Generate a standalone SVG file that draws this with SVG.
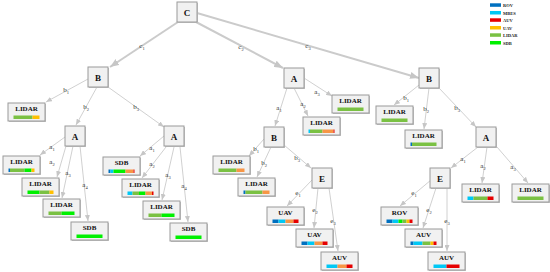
<svg xmlns="http://www.w3.org/2000/svg" width="550" height="272" viewBox="0 0 550 272">
<style>
.bg{fill:#ffffff}
.n rect.b{fill:#f1f1f1;stroke:#9a9a9a;stroke-width:1}
.n rect.s{fill:#c4c4c4}
.n text{font-family:"Liberation Serif",serif;font-weight:bold;fill:#111;text-anchor:middle}
.in text{font-size:9px}
.lf text{font-size:7px}
.e line{stroke:#cbcbcb;stroke-width:0.9;fill:none;marker-end:url(#ah)}
.e line.t{stroke-width:2;marker-end:url(#ahb)}
.lb{opacity:0.99}
.lb text{font-family:"Liberation Serif",serif;font-size:7px;fill:#333333;text-anchor:middle}
.lb tspan{font-size:4.5px}
.rov{fill:#0070c0}.mbes{fill:#00c8f5}.auv{fill:#e60000}.uav{fill:#ffc000}.lid{fill:#7ac143}.sdb{fill:#00f000}.org{fill:#f79646}
.lg text{font-family:"Liberation Serif",serif;font-weight:bold;font-size:4.5px;fill:#222}
</style>
<defs>
<marker id="ah" markerUnits="userSpaceOnUse" markerWidth="6" markerHeight="5" refX="6" refY="2.5" orient="auto"><path d="M0,0 L6,2.5 L0,5 z" fill="#c6c6c6"/></marker>
<marker id="ahb" markerUnits="userSpaceOnUse" markerWidth="9" markerHeight="7" refX="9" refY="3.5" orient="auto"><path d="M0,0 L9,3.5 L0,7 z" fill="#c6c6c6"/></marker>
</defs>
<rect class="bg" x="0" y="0" width="550" height="272"/>

<g id="connectors" class="e">
<line class="t" x1="178" y1="22" x2="110" y2="67"/>
<line class="t" x1="196" y1="22" x2="283" y2="68"/>
<line class="t" x1="197" y1="13" x2="419" y2="78"/>
<line x1="88" y1="79" x2="46" y2="102"/>
<line x1="97" y1="87" x2="76" y2="125"/>
<line x1="108" y1="87" x2="164" y2="127"/>
<line x1="65" y1="137" x2="40" y2="155"/>
<line x1="66" y1="146" x2="57" y2="177"/>
<line x1="73" y1="146" x2="62" y2="198"/>
<line x1="80" y1="146" x2="88" y2="221"/>
<line x1="164" y1="136" x2="140" y2="156"/>
<line x1="166" y1="147" x2="142" y2="178"/>
<line x1="174" y1="147" x2="162" y2="200"/>
<line x1="180" y1="147" x2="188" y2="222"/>
<line x1="287" y1="88" x2="275" y2="126"/>
<line x1="294" y1="88" x2="308" y2="116"/>
<line x1="304" y1="78" x2="332" y2="96"/>
<line x1="264" y1="139" x2="249" y2="156"/>
<line x1="271" y1="147" x2="257" y2="177"/>
<line x1="284" y1="145" x2="311" y2="168"/>
<line x1="312" y1="180" x2="287" y2="206"/>
<line x1="318" y1="188" x2="314" y2="228"/>
<line x1="329" y1="188" x2="338" y2="251"/>
<line x1="419" y1="85" x2="394" y2="105"/>
<line x1="429" y1="88" x2="424" y2="129"/>
<line x1="439" y1="88" x2="476" y2="127"/>
<line x1="478" y1="147" x2="451" y2="168"/>
<line x1="487" y1="147" x2="482" y2="183"/>
<line x1="497" y1="147" x2="528" y2="183"/>
<line x1="431" y1="180" x2="400" y2="206"/>
<line x1="436" y1="188" x2="423" y2="228"/>
<line x1="447" y1="188" x2="447" y2="251"/>
</g>

<g id="edge-labels" class="lb">
<text x="142" y="48">c<tspan dy="1.5">1</tspan></text>
<text x="241" y="49">c<tspan dy="1.5">2</tspan></text>
<text x="308" y="48">c<tspan dy="1.5">3</tspan></text>
<text x="66" y="92">b<tspan dy="1.5">1</tspan></text>
<text x="86" y="109">b<tspan dy="1.5">2</tspan></text>
<text x="136" y="109">b<tspan dy="1.5">3</tspan></text>
<text x="52" y="149">a<tspan dy="1.5">1</tspan></text>
<text x="52" y="164">a<tspan dy="1.5">2</tspan></text>
<text x="68" y="175">a<tspan dy="1.5">3</tspan></text>
<text x="85" y="187">a<tspan dy="1.5">4</tspan></text>
<text x="152" y="150">a<tspan dy="1.5">1</tspan></text>
<text x="152" y="166">a<tspan dy="1.5">2</tspan></text>
<text x="168" y="177">a<tspan dy="1.5">3</tspan></text>
<text x="184" y="188">a<tspan dy="1.5">4</tspan></text>
<text x="279" y="110">a<tspan dy="1.5">1</tspan></text>
<text x="303" y="106">a<tspan dy="1.5">2</tspan></text>
<text x="317" y="94">a<tspan dy="1.5">3</tspan></text>
<text x="256" y="151">b<tspan dy="1.5">1</tspan></text>
<text x="264" y="165">b<tspan dy="1.5">2</tspan></text>
<text x="297" y="160">b<tspan dy="1.5">3</tspan></text>
<text x="298" y="195">e<tspan dy="1.5">1</tspan></text>
<text x="315" y="212">e<tspan dy="1.5">2</tspan></text>
<text x="333" y="223">e<tspan dy="1.5">3</tspan></text>
<text x="406" y="100">b<tspan dy="1.5">1</tspan></text>
<text x="426" y="111">b<tspan dy="1.5">2</tspan></text>
<text x="457" y="110">b<tspan dy="1.5">3</tspan></text>
<text x="463" y="161">a<tspan dy="1.5">1</tspan></text>
<text x="483" y="168">a<tspan dy="1.5">2</tspan></text>
<text x="513" y="169">a<tspan dy="1.5">3</tspan></text>
<text x="414" y="195">e<tspan dy="1.5">1</tspan></text>
<text x="429" y="212">e<tspan dy="1.5">2</tspan></text>
<text x="447" y="223">e<tspan dy="1.5">3</tspan></text>
</g>

<g id="n-C" class="n in"><rect class="s" x="178" y="3" width="20" height="20"/><rect class="b" x="177" y="2" width="20" height="20"/><text x="187" y="15.5">C</text></g>
<g id="n-B1" class="n in"><rect class="s" x="89" y="68" width="20" height="20"/><rect class="b" x="88" y="67" width="20" height="20"/><text x="98" y="80.5">B</text></g>
<g id="n-A1" class="n in"><rect class="s" x="66" y="127" width="20" height="20"/><rect class="b" x="65" y="126" width="20" height="20"/><text x="75" y="139.5">A</text></g>
<g id="n-A2" class="n in"><rect class="s" x="165" y="127" width="20" height="20"/><rect class="b" x="164" y="126" width="20" height="20"/><text x="174" y="139.5">A</text></g>
<g id="n-A3" class="n in"><rect class="s" x="285" y="69" width="20" height="20"/><rect class="b" x="284" y="68" width="20" height="20"/><text x="294" y="81.5">A</text></g>
<g id="n-B2" class="n in"><rect class="s" x="265" y="128" width="20" height="20"/><rect class="b" x="264" y="127" width="20" height="20"/><text x="274" y="140.5">B</text></g>
<g id="n-E1" class="n in"><rect class="s" x="313" y="169" width="20" height="20"/><rect class="b" x="312" y="168" width="20" height="20"/><text x="322" y="181.5">E</text></g>
<g id="n-B3" class="n in"><rect class="s" x="420" y="69" width="20" height="20"/><rect class="b" x="419" y="68" width="20" height="20"/><text x="429" y="81.5">B</text></g>
<g id="n-A4" class="n in"><rect class="s" x="477" y="128" width="20" height="20"/><rect class="b" x="476" y="127" width="20" height="20"/><text x="486" y="140.5">A</text></g>
<g id="n-E2" class="n in"><rect class="s" x="431" y="169" width="20" height="20"/><rect class="b" x="430" y="168" width="20" height="20"/><text x="440" y="181.5">E</text></g>

<g id="leaf1" class="n lf"><rect class="s" x="9" y="104" width="37" height="18"/><rect class="b" x="8" y="103" width="37" height="18"/><text x="26.5" y="111">LIDAR</text>
<rect class="lid" x="13.5" y="115.5" width="19" height="3.5"/><rect class="uav" x="32.5" y="115.5" width="7" height="3.5"/></g>
<g id="leaf2" class="n lf"><rect class="s" x="4" y="157" width="37" height="18"/><rect class="b" x="3" y="156" width="37" height="18"/><text x="21.5" y="164">LIDAR</text>
<rect class="rov" x="8.5" y="168.5" width="1.5" height="3.5"/><rect class="lid" x="10" y="168.5" width="14.5" height="3.5"/><rect class="sdb" x="24.5" y="168.5" width="7" height="3.5"/><rect class="uav" x="31.5" y="168.5" width="3" height="3.5"/></g>
<g id="leaf3" class="n lf"><rect class="s" x="23" y="179" width="37" height="18"/><rect class="b" x="22" y="178" width="37" height="18"/><text x="40.5" y="186">LIDAR</text>
<rect class="sdb" x="27.5" y="190.5" width="12" height="3.5"/><rect class="lid" x="39.5" y="190.5" width="10" height="3.5"/><rect class="uav" x="49.5" y="190.5" width="4" height="3.5"/></g>
<g id="leaf4" class="n lf"><rect class="s" x="44" y="200" width="37" height="18"/><rect class="b" x="43" y="199" width="37" height="18"/><text x="61.5" y="207">LIDAR</text>
<rect class="lid" x="48.5" y="211.5" width="13" height="3.5"/><rect class="sdb" x="61.5" y="211.5" width="13" height="3.5"/></g>
<g id="leaf5" class="n lf"><rect class="s" x="72" y="223" width="37" height="18"/><rect class="b" x="71" y="222" width="37" height="18"/><text x="89.5" y="230">SDB</text>
<rect class="sdb" x="76.5" y="234.5" width="26" height="3.5"/></g>
<g id="leaf6" class="n lf"><rect class="s" x="104" y="158" width="37" height="18"/><rect class="b" x="103" y="157" width="37" height="18"/><text x="121.5" y="165">SDB</text>
<rect class="rov" x="108.5" y="169.5" width="2" height="3.5"/><rect class="mbes" x="110.5" y="169.5" width="3" height="3.5"/><rect class="sdb" x="113.5" y="169.5" width="12" height="3.5"/><rect class="org" x="125.5" y="169.5" width="8" height="3.5"/><rect class="auv" x="133.5" y="169.5" width="1" height="3.5"/></g>
<g id="leaf7" class="n lf"><rect class="s" x="123" y="180" width="37" height="18"/><rect class="b" x="122" y="179" width="37" height="18"/><text x="140.5" y="187">LIDAR</text>
<rect class="mbes" x="127.5" y="191.5" width="5" height="3.5"/><rect class="lid" x="132.5" y="191.5" width="6.5" height="3.5"/><rect class="sdb" x="139" y="191.5" width="6.5" height="3.5"/><rect class="org" x="145.5" y="191.5" width="6.5" height="3.5"/><rect class="auv" x="152" y="191.5" width="1.5" height="3.5"/></g>
<g id="leaf8" class="n lf"><rect class="s" x="144" y="202" width="37" height="18"/><rect class="b" x="143" y="201" width="37" height="18"/><text x="161.5" y="209">LIDAR</text>
<rect class="lid" x="148.5" y="213.5" width="13" height="3.5"/><rect class="sdb" x="161.5" y="213.5" width="13" height="3.5"/></g>
<g id="leaf9" class="n lf"><rect class="s" x="171" y="224" width="37" height="18"/><rect class="b" x="170" y="223" width="37" height="18"/><text x="188.5" y="231">SDB</text>
<rect class="sdb" x="175.5" y="235.5" width="26" height="3.5"/></g>
<g id="leaf10" class="n lf"><rect class="s" x="333" y="96" width="37" height="18"/><rect class="b" x="332" y="95" width="37" height="18"/><text x="350.5" y="103">LIDAR</text>
<rect class="lid" x="337.5" y="107.5" width="26" height="3.5"/></g>
<g id="leaf11" class="n lf"><rect class="s" x="304" y="118" width="37" height="18"/><rect class="b" x="303" y="117" width="37" height="18"/><text x="321.5" y="125">LIDAR</text>
<rect class="mbes" x="308.5" y="129.5" width="1.5" height="3.5"/><rect class="lid" x="310" y="129.5" width="12.5" height="3.5"/><rect class="org" x="322.5" y="129.5" width="11" height="3.5"/><rect class="auv" x="333.5" y="129.5" width="1" height="3.5"/></g>
<g id="leaf12" class="n lf"><rect class="s" x="214" y="157" width="37" height="18"/><rect class="b" x="213" y="156" width="37" height="18"/><text x="231.5" y="164">LIDAR</text>
<rect class="lid" x="218.5" y="168.5" width="18" height="3.5"/><rect class="org" x="236.5" y="168.5" width="8" height="3.5"/></g>
<g id="leaf13" class="n lf"><rect class="s" x="239" y="179" width="37" height="18"/><rect class="b" x="238" y="178" width="37" height="18"/><text x="256.5" y="186">LIDAR</text>
<rect class="rov" x="243.5" y="190.5" width="2" height="3.5"/><rect class="lid" x="245.5" y="190.5" width="17" height="3.5"/><rect class="org" x="262.5" y="190.5" width="7" height="3.5"/></g>
<g id="leaf14" class="n lf"><rect class="s" x="268" y="208" width="37" height="18"/><rect class="b" x="267" y="207" width="37" height="18"/><text x="285.5" y="215">UAV</text>
<rect class="rov" x="272.5" y="219.5" width="6" height="3.5"/><rect class="mbes" x="278.5" y="219.5" width="7" height="3.5"/><rect class="org" x="285.5" y="219.5" width="8" height="3.5"/><rect class="auv" x="293.5" y="219.5" width="5" height="3.5"/></g>
<g id="leaf15" class="n lf"><rect class="s" x="297" y="230" width="37" height="18"/><rect class="b" x="296" y="229" width="37" height="18"/><text x="314.5" y="237">UAV</text>
<rect class="rov" x="301.5" y="241.5" width="6" height="3.5"/><rect class="mbes" x="307.5" y="241.5" width="7" height="3.5"/><rect class="org" x="314.5" y="241.5" width="8" height="3.5"/><rect class="auv" x="322.5" y="241.5" width="5" height="3.5"/></g>
<g id="leaf16" class="n lf"><rect class="s" x="322" y="253" width="37" height="18"/><rect class="b" x="321" y="252" width="37" height="18"/><text x="339.5" y="260">AUV</text>
<rect class="mbes" x="326.5" y="264.5" width="11" height="3.5"/><rect class="org" x="337.5" y="264.5" width="9" height="3.5"/><rect class="auv" x="346.5" y="264.5" width="6" height="3.5"/></g>
<g id="leaf17" class="n lf"><rect class="s" x="377" y="107" width="37" height="18"/><rect class="b" x="376" y="106" width="37" height="18"/><text x="394.5" y="114">LIDAR</text>
<rect class="lid" x="381.5" y="118.5" width="26" height="3.5"/></g>
<g id="leaf18" class="n lf"><rect class="s" x="406" y="131" width="37" height="18"/><rect class="b" x="405" y="130" width="37" height="18"/><text x="423.5" y="138">LIDAR</text>
<rect class="rov" x="410.5" y="142.5" width="1.5" height="3.5"/><rect class="lid" x="412" y="142.5" width="24.5" height="3.5"/></g>
<g id="leaf19" class="n lf"><rect class="s" x="463" y="185" width="37" height="18"/><rect class="b" x="462" y="184" width="37" height="18"/><text x="480.5" y="192">LIDAR</text>
<rect class="mbes" x="467.5" y="196.5" width="6" height="3.5"/><rect class="lid" x="473.5" y="196.5" width="14" height="3.5"/><rect class="auv" x="487.5" y="196.5" width="6" height="3.5"/></g>
<g id="leaf20" class="n lf"><rect class="s" x="513" y="185" width="37" height="18"/><rect class="b" x="512" y="184" width="37" height="18"/><text x="530.5" y="192">LIDAR</text>
<rect class="lid" x="517.5" y="196.5" width="26" height="3.5"/></g>
<g id="leaf21" class="n lf"><rect class="s" x="382" y="208" width="37" height="18"/><rect class="b" x="381" y="207" width="37" height="18"/><text x="399.5" y="215">ROV</text>
<rect class="rov" x="386.5" y="219.5" width="6" height="3.5"/><rect class="mbes" x="392.5" y="219.5" width="6" height="3.5"/><rect class="sdb" x="398.5" y="219.5" width="4" height="3.5"/><rect class="lid" x="402.5" y="219.5" width="4" height="3.5"/><rect class="uav" x="406.5" y="219.5" width="3" height="3.5"/><rect class="auv" x="409.5" y="219.5" width="3" height="3.5"/></g>
<g id="leaf22" class="n lf"><rect class="s" x="406" y="230" width="37" height="18"/><rect class="b" x="405" y="229" width="37" height="18"/><text x="423.5" y="237">AUV</text>
<rect class="rov" x="410.5" y="241.5" width="3" height="3.5"/><rect class="mbes" x="413.5" y="241.5" width="9" height="3.5"/><rect class="lid" x="422.5" y="241.5" width="8" height="3.5"/><rect class="uav" x="430.5" y="241.5" width="3" height="3.5"/><rect class="auv" x="433.5" y="241.5" width="3" height="3.5"/></g>
<g id="leaf23" class="n lf"><rect class="s" x="429" y="253" width="37" height="18"/><rect class="b" x="428" y="252" width="37" height="18"/><text x="446.5" y="260">AUV</text>
<rect class="mbes" x="433.5" y="264.5" width="13" height="3.5"/><rect class="auv" x="446.5" y="264.5" width="13" height="3.5"/></g>

<g id="legend" class="lg">
<rect class="rov" x="490" y="3.3" width="11" height="3.5"/><text x="503" y="6.8">ROV</text>
<rect class="mbes" x="490" y="11" width="11" height="3.5"/><text x="503" y="14.5">MBES</text>
<rect class="auv" x="490" y="18.3" width="11" height="3.5"/><text x="503" y="21.8">AUV</text>
<rect class="uav" x="490" y="26" width="11" height="3.5"/><text x="503" y="29.5">UAV</text>
<rect class="lid" x="490" y="33.3" width="11" height="3.5"/><text x="503" y="36.8">LIDAR</text>
<rect class="sdb" x="490" y="41" width="11" height="3.5"/><text x="503" y="44.5">SDB</text>
</g>
</svg>
